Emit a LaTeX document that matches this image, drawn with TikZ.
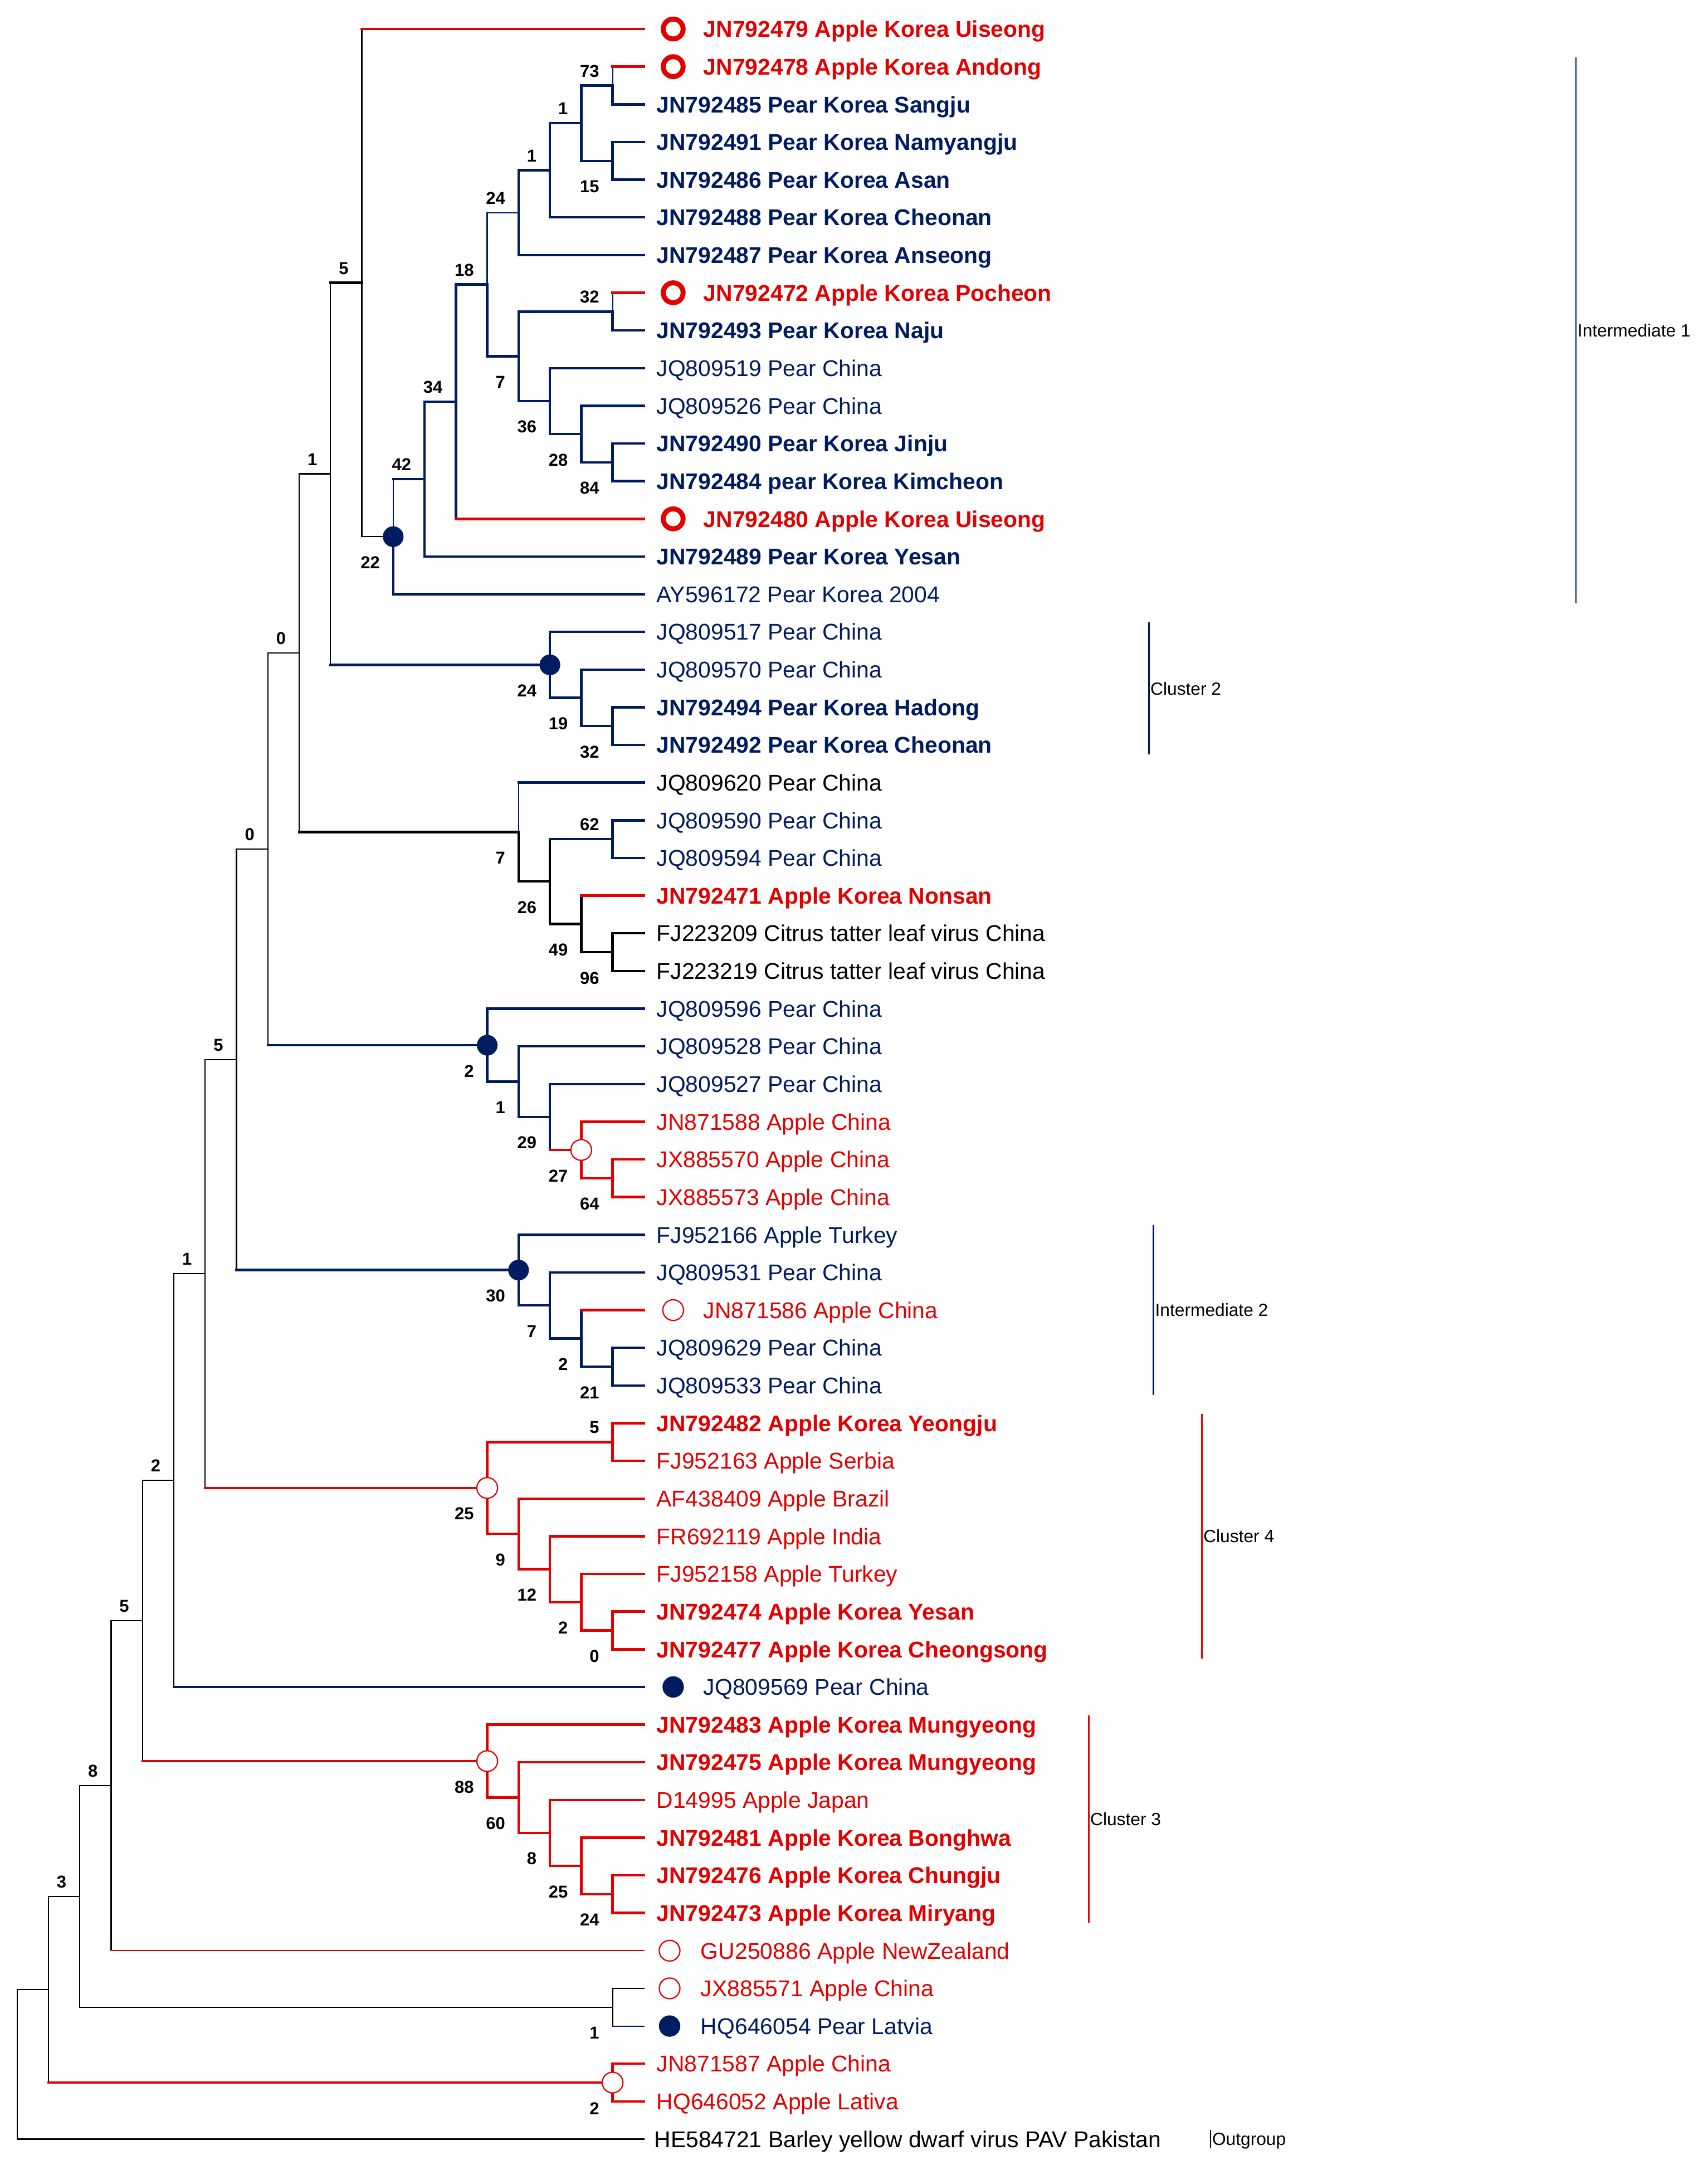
\documentclass[tikz,border=0pt]{standalone}
\usepackage{fontspec}
\setmainfont{Liberation Sans}
\usetikzlibrary{positioning}
\definecolor{navy}{RGB}{0,28,96}
\definecolor{applered}{RGB}{226,0,0}
\tikzset{
  kthin/.style={draw=black, line width=0.9pt, line cap=rect},
  kthick/.style={draw=black, line width=1.8pt, line cap=rect},
  bthin/.style={draw=navy, line width=0.9pt, line cap=rect},
  bthick/.style={draw=navy, line width=1.8pt, line cap=rect},
  rthin/.style={draw=applered, line width=0.9pt, line cap=rect},
  rthick/.style={draw=applered, line width=1.8pt, line cap=rect},
  leaf/.style={inner sep=0pt, text height=11.9pt, text depth=0pt, font=\fontsize{16.5}{18}\selectfont},
  leafB/.style={leaf, text=navy, font=\fontsize{16.5}{18}\selectfont\bfseries},
  leafb/.style={leaf, text=navy},
  leafR/.style={leaf, text=applered, font=\fontsize{16.5}{18}\selectfont\bfseries},
  leafr/.style={leaf, text=applered},
  leafk/.style={leaf, text=black},
  boot/.style={inner sep=0pt, text height=9pt, text depth=0pt, font=\fontsize{12.5}{14}\selectfont\bfseries},
  bootup/.style={boot, anchor=south east, xshift=-9.5pt, yshift=6pt},
  bootdn/.style={boot, anchor=north east, xshift=-9.5pt, yshift=-13.8pt},
  ringR/.style={circle, draw=applered, line width=3.6pt, fill=white, minimum size=14.4pt, inner sep=0pt},
  ringr/.style={circle, draw=applered, line width=0.9pt, fill=white, minimum size=15pt, inner sep=0pt},
  dotB/.style={circle, fill=navy, minimum size=15.5pt, inner sep=0pt},
  hnode/.style={circle, draw=applered, line width=0.9pt, fill=white, minimum size=15pt, inner sep=0pt},
  fnode/.style={circle, fill=navy, minimum size=15pt, inner sep=0pt},
  bar/.style={line width=1.1pt},
  clus/.style={inner sep=0pt, anchor=west, xshift=1pt, text height=9.2pt, text depth=0pt, font=\fontsize{12.8}{14}\selectfont}
}

\begin{document}
\begin{tikzpicture}[x=22.7pt, y=-27.29pt]
\useasboundingbox (-0.5463,0.2305) rectangle (53.947,57.688);

\coordinate (l1) at (20,1);
\coordinate (l2) at (20,2);
\coordinate (l3) at (20,3);
\coordinate (l4) at (20,4);
\coordinate (l5) at (20,5);
\coordinate (l6) at (20,6);
\coordinate (l7) at (20,7);
\coordinate (l8) at (20,8);
\coordinate (l9) at (20,9);
\coordinate (l10) at (20,10);
\coordinate (l11) at (20,11);
\coordinate (l12) at (20,12);
\coordinate (l13) at (20,13);
\coordinate (l14) at (20,14);
\coordinate (l15) at (20,15);
\coordinate (l16) at (20,16);
\coordinate (l17) at (20,17);
\coordinate (l18) at (20,18);
\coordinate (l19) at (20,19);
\coordinate (l20) at (20,20);
\coordinate (l21) at (20,21);
\coordinate (l22) at (20,22);
\coordinate (l23) at (20,23);
\coordinate (l24) at (20,24);
\coordinate (l25) at (20,25);
\coordinate (l26) at (20,26);
\coordinate (l27) at (20,27);
\coordinate (l28) at (20,28);
\coordinate (l29) at (20,29);
\coordinate (l30) at (20,30);
\coordinate (l31) at (20,31);
\coordinate (l32) at (20,32);
\coordinate (l33) at (20,33);
\coordinate (l34) at (20,34);
\coordinate (l35) at (20,35);
\coordinate (l36) at (20,36);
\coordinate (l37) at (20,37);
\coordinate (l38) at (20,38);
\coordinate (l39) at (20,39);
\coordinate (l40) at (20,40);
\coordinate (l41) at (20,41);
\coordinate (l42) at (20,42);
\coordinate (l43) at (20,43);
\coordinate (l44) at (20,44);
\coordinate (l45) at (20,45);
\coordinate (l46) at (20,46);
\coordinate (l47) at (20,47);
\coordinate (l48) at (20,48);
\coordinate (l49) at (20,49);
\coordinate (l50) at (20,50);
\coordinate (l51) at (20,51);
\coordinate (l52) at (20,52);
\coordinate (l53) at (20,53);
\coordinate (l54) at (20,54);
\coordinate (l55) at (20,55);
\coordinate (l56) at (20,56);
\coordinate (l57) at (20,57);

\coordinate (s0) at (0,55.0152);
\coordinate (s1) at (1,53.0304);
\coordinate (s2) at (2,50.5608);
\coordinate (s3) at (3,47.6215);
\coordinate (s4) at (4,43.2431);
\coordinate (s5) at (5,39.5174);
\coordinate (s6) at (6,34.0347);
\coordinate (s7) at (7,28.3507);
\coordinate (s8) at (8,22.7639);
\coordinate (s9) at (9,17.5591);
\coordinate (s10) at (10,12.8057);
\coordinate (s11) at (11,7.7363);
\coordinate (a22) at (12,14.4727);
\coordinate (a42) at (13,12.9453);
\coordinate (a34) at (14,10.8906);
\coordinate (a18) at (15,7.7813);
\coordinate (a24) at (16,5.875);
\coordinate (a1p) at (17,4.75);
\coordinate (a1q) at (18,3.5);
\coordinate (a73) at (19,2.5);
\coordinate (a15) at (19,4.5);
\coordinate (a7) at (16,9.6875);
\coordinate (a32) at (19,8.5);
\coordinate (a36) at (17,10.875);
\coordinate (a28) at (18,11.75);
\coordinate (a84) at (19,12.5);
\coordinate (b24) at (17,17.875);
\coordinate (b19) at (18,18.75);
\coordinate (b32) at (19,19.5);
\coordinate (c7) at (16,22.3125);
\coordinate (c26) at (17,23.625);
\coordinate (c62) at (19,22.5);
\coordinate (c49) at (18,24.75);
\coordinate (c96) at (19,25.5);
\coordinate (d2) at (15,27.9688);
\coordinate (d1) at (16,28.9375);
\coordinate (d29) at (17,29.875);
\coordinate (d27) at (18,30.75);
\coordinate (d64) at (19,31.5);
\coordinate (e30) at (16,33.9375);
\coordinate (e7) at (17,34.875);
\coordinate (e2) at (18,35.75);
\coordinate (e21) at (19,36.5);
\coordinate (f25) at (15,39.7188);
\coordinate (f5) at (19,38.5);
\coordinate (f9) at (16,40.9375);
\coordinate (f12) at (17,41.875);
\coordinate (f2) at (18,42.75);
\coordinate (f0) at (19,43.5);
\coordinate (g88) at (15,46.9688);
\coordinate (g60) at (16,47.9375);
\coordinate (g8) at (17,48.875);
\coordinate (g25) at (18,49.75);
\coordinate (g24) at (19,50.5);
\coordinate (h1) at (19,53.5);
\coordinate (h2) at (19,55.5);

\draw[kthin] (s0) |- (s1);
\draw[kthin] (s0) |- (l57);
\draw[kthin] (s1) |- (s2);
\draw[kthin] (s1) -- (s1 |- h2);
\draw[rthick] (s1 |- h2) -- (h2);
\draw[rthick] (h2) |- (l55);
\draw[rthick] (h2) |- (l56);
\draw[kthin] (s2) |- (s3);
\draw[kthin] (s2) |- (h1);
\draw[kthin] (h1) |- (l53);
\draw[kthin] (h1) -- (h1 |- l54);
\draw[bthin] (h1 |- l54) -- (l54);
\draw[kthin] (s3) |- (s4);
\draw[kthin] (s3) -- (s3 |- l52);
\draw[rthin] (s3 |- l52) -- (l52);
\draw[kthin] (s4) |- (s5);
\draw[kthin] (s4) -- (s4 |- g88);
\draw[rthick] (s4 |- g88) -- (g88);
\draw[rthick] (g88) |- (l46);
\draw[rthick] (g88) |- (g60);
\draw[rthick] (g60) |- (l47);
\draw[rthick] (g60) |- (g8);
\draw[rthick] (g8) |- (l48);
\draw[rthick] (g8) |- (g25);
\draw[rthick] (g25) |- (l49);
\draw[rthick] (g25) |- (g24);
\draw[rthick] (g24) |- (l50);
\draw[rthick] (g24) |- (l51);
\draw[kthin] (s5) |- (s6);
\draw[kthin] (s5) -- (s5 |- l45);
\draw[bthick] (s5 |- l45) -- (l45);
\draw[kthin] (s6) |- (s7);
\draw[kthin] (s6) -- (s6 |- f25);
\draw[rthick] (s6 |- f25) -- (f25);
\draw[rthick] (f25) |- (f5);
\draw[rthick] (f25) |- (f9);
\draw[rthick] (f5) |- (l38);
\draw[rthick] (f5) |- (l39);
\draw[rthick] (f9) |- (l40);
\draw[rthick] (f9) |- (f12);
\draw[rthick] (f12) |- (l41);
\draw[rthick] (f12) |- (f2);
\draw[rthick] (f2) |- (l42);
\draw[rthick] (f2) |- (f0);
\draw[rthick] (f0) |- (l43);
\draw[rthick] (f0) |- (l44);
\draw[kthin] (s7) |- (s8);
\draw[kthin] (s7) -- (s7 |- e30);
\draw[bthick] (s7 |- e30) -- (e30);
\draw[bthick] (e30) |- (l33);
\draw[bthick] (e30) |- (e7);
\draw[bthick] (e7) |- (l34);
\draw[bthick] (e7) |- (e2);
\draw[bthick] (e2) -- (e2 |- l35);
\draw[rthick] (e2 |- l35) -- (l35);
\draw[bthick] (e2) |- (e21);
\draw[bthick] (e21) |- (l36);
\draw[bthick] (e21) |- (l37);
\draw[kthin] (s8) |- (s9);
\draw[kthin] (s8) -- (s8 |- d2);
\draw[bthick] (s8 |- d2) -- (d2);
\draw[bthick] (d2) |- (l27);
\draw[bthick] (d2) |- (d1);
\draw[bthick] (d1) |- (l28);
\draw[bthick] (d1) |- (d29);
\draw[bthick] (d29) |- (l29);
\draw[bthick] (d29) -- (d29 |- d27);
\draw[rthick] (d29 |- d27) -- (d27);
\draw[rthick] (d27) |- (l30);
\draw[rthick] (d27) |- (d64);
\draw[rthick] (d64) |- (l31);
\draw[rthick] (d64) |- (l32);
\draw[kthin] (s9) |- (s10);
\draw[kthin] (s9) -- (s9 |- c7);
\draw[kthick] (s9 |- c7) -- (c7);
\draw[bthin] (c7) -- (c7 |- l21);
\draw[bthick] (c7 |- l21) -- (l21);
\draw[kthick] (c7) |- (c26);
\draw[kthick] (c26) -- (c26 |- c62);
\draw[bthick] (c26 |- c62) -- (c62);
\draw[kthick] (c26) |- (c49);
\draw[bthick] (c62) |- (l22);
\draw[bthick] (c62) |- (l23);
\draw[kthick] (c49) -- (c49 |- l24);
\draw[rthick] (c49 |- l24) -- (l24);
\draw[kthick] (c49) |- (c96);
\draw[kthick] (c96) |- (l25);
\draw[kthick] (c96) |- (l26);
\draw[kthin] (s10) -- (s10 |- s11);
\draw[kthick] (s10 |- s11) -- (s11);
\draw[kthin] (s10) -- (s10 |- b24);
\draw[bthick] (s10 |- b24) -- (b24);
\draw[bthick] (b24) |- (l17);
\draw[bthick] (b24) |- (b19);
\draw[bthick] (b19) |- (l18);
\draw[bthick] (b19) |- (b32);
\draw[bthick] (b32) |- (l19);
\draw[bthick] (b32) |- (l20);
\draw[kthin] (s11) -- (s11 |- l1);
\draw[rthick] (s11 |- l1) -- (l1);
\draw[kthin] (s11) |- (a22);
\draw[bthin] (a22) -- (a22 |- a42);
\draw[bthick] (a22 |- a42) -- (a42);
\draw[bthick] (a22) |- (l16);
\draw[bthick] (a42) |- (a34);
\draw[bthick] (a42) |- (l15);
\draw[bthick] (a34) |- (a18);
\draw[bthick] (a34) -- (a34 |- l14);
\draw[rthick] (a34 |- l14) -- (l14);
\draw[bthin] (a18) |- (a24);
\draw[bthick] (a18) |- (a7);
\draw[bthick] (a24) |- (a1p);
\draw[bthick] (a24) |- (l7);
\draw[bthick] (a1p) |- (a1q);
\draw[bthick] (a1p) |- (l6);
\draw[bthick] (a1q) |- (a73);
\draw[bthick] (a1q) |- (a15);
\draw[bthin] (a73) -- (a73 |- l2);
\draw[rthick] (a73 |- l2) -- (l2);
\draw[bthick] (a73) |- (l3);
\draw[bthick] (a15) |- (l4);
\draw[bthick] (a15) |- (l5);
\draw[bthick] (a7) |- (a32);
\draw[bthick] (a7) |- (a36);
\draw[bthin] (a32) -- (a32 |- l8);
\draw[rthick] (a32 |- l8) -- (l8);
\draw[bthick] (a32) |- (l9);
\draw[bthick] (a36) |- (l10);
\draw[bthick] (a36) |- (a28);
\draw[bthick] (a28) |- (l11);
\draw[bthick] (a28) |- (a84);
\draw[bthick] (a84) |- (l12);
\draw[bthick] (a84) |- (l13);

\node[fnode] (ma22) at (a22) {};
\node[fnode] (mb24) at (b24) {};
\node[fnode] (md2) at (d2) {};
\node[fnode] (me30) at (e30) {};
\node[hnode] (md27) at (d27) {};
\node[hnode] (mf25) at (f25) {};
\node[hnode] (mg88) at (g88) {};
\node[hnode] (mh2) at (h2) {};

\node[bootup] (bs2) at (s2) {3};
\node[bootup] (bs3) at (s3) {8};
\node[bootup] (bs4) at (s4) {5};
\node[bootup] (bs5) at (s5) {2};
\node[bootup] (bs6) at (s6) {1};
\node[bootup] (bs7) at (s7) {5};
\node[bootup] (bs8) at (s8) {0};
\node[bootup] (bs9) at (s9) {0};
\node[bootup] (bs10) at (s10) {1};
\node[bootup] (bs11) at (s11) {5};
\node[bootdn] (ba22) at (a22) {22};
\node[bootup] (ba42) at (a42) {42};
\node[bootup] (ba34) at (a34) {34};
\node[bootup] (ba18) at (a18) {18};
\node[bootup] (ba24) at (a24) {24};
\node[bootup] (ba1p) at (a1p) {1};
\node[bootup] (ba1q) at (a1q) {1};
\node[bootup] (ba73) at (a73) {73};
\node[bootdn] (ba15) at (a15) {15};
\node[bootdn] (ba7) at (a7) {7};
\node[bootup] (ba32) at (a32) {32};
\node[bootdn] (ba36) at (a36) {36};
\node[bootdn] (ba28) at (a28) {28};
\node[bootdn] (ba84) at (a84) {84};
\node[bootdn] (bb24) at (b24) {24};
\node[bootdn] (bb19) at (b19) {19};
\node[bootdn] (bb32) at (b32) {32};
\node[bootdn] (bc7) at (c7) {7};
\node[bootdn] (bc26) at (c26) {26};
\node[bootup] (bc62) at (c62) {62};
\node[bootdn] (bc49) at (c49) {49};
\node[bootdn] (bc96) at (c96) {96};
\node[bootdn] (bd2) at (d2) {2};
\node[bootdn] (bd1) at (d1) {1};
\node[bootdn] (bd29) at (d29) {29};
\node[bootdn] (bd27) at (d27) {27};
\node[bootdn] (bd64) at (d64) {64};
\node[bootdn] (be30) at (e30) {30};
\node[bootdn] (be7) at (e7) {7};
\node[bootdn] (be2) at (e2) {2};
\node[bootdn] (be21) at (e21) {21};
\node[bootdn] (bf25) at (f25) {25};
\node[bootup] (bf5) at (f5) {5};
\node[bootdn] (bf9) at (f9) {9};
\node[bootdn] (bf12) at (f12) {12};
\node[bootdn] (bf2) at (f2) {2};
\node[bootdn] (bf0) at (f0) {0};
\node[bootdn] (bg88) at (g88) {88};
\node[bootdn] (bg60) at (g60) {60};
\node[bootdn] (bg8) at (g8) {8};
\node[bootdn] (bg25) at (g25) {25};
\node[bootdn] (bg24) at (g24) {24};
\node[bootdn] (bh1) at (h1) {1};
\node[bootdn] (bh2) at (h2) {2};

\node[ringR] (m1) at ([xshift=21.2pt]l1) {};
\node[ringR] (m2) at ([xshift=21.2pt]l2) {};
\node[ringR] (m8) at ([xshift=21.2pt]l8) {};
\node[ringR] (m14) at ([xshift=21.2pt]l14) {};
\node[ringr] (m35) at ([xshift=21.2pt]l35) {};
\node[dotB] (m45) at ([xshift=21.2pt]l45) {};
\node[ringr] (m52) at ([xshift=18.6pt]l52) {};
\node[ringr] (m53) at ([xshift=18.6pt]l53) {};
\node[dotB] (m54) at ([xshift=18.6pt]l54) {};

\node[leafR, right=43pt of l1] (t1) {JN792479 Apple Korea Uiseong};
\node[leafR, right=43pt of l2] (t2) {JN792478 Apple Korea Andong};
\node[leafB, right=9pt of l3] (t3) {JN792485 Pear Korea Sangju};
\node[leafB, right=9pt of l4] (t4) {JN792491 Pear Korea Namyangju};
\node[leafB, right=9pt of l5] (t5) {JN792486 Pear Korea Asan};
\node[leafB, right=9pt of l6] (t6) {JN792488 Pear Korea Cheonan};
\node[leafB, right=9pt of l7] (t7) {JN792487 Pear Korea Anseong};
\node[leafR, right=43pt of l8] (t8) {JN792472 Apple Korea Pocheon};
\node[leafB, right=9pt of l9] (t9) {JN792493 Pear Korea Naju};
\node[leafb, right=9pt of l10] (t10) {JQ809519 Pear China};
\node[leafb, right=9pt of l11] (t11) {JQ809526 Pear China};
\node[leafB, right=9pt of l12] (t12) {JN792490 Pear Korea Jinju};
\node[leafB, right=9pt of l13] (t13) {JN792484 pear Korea Kimcheon};
\node[leafR, right=43pt of l14] (t14) {JN792480 Apple Korea Uiseong};
\node[leafB, right=9pt of l15] (t15) {JN792489 Pear Korea Yesan};
\node[leafb, right=9pt of l16] (t16) {AY596172 Pear Korea 2004};
\node[leafb, right=9pt of l17] (t17) {JQ809517 Pear China};
\node[leafb, right=9pt of l18] (t18) {JQ809570 Pear China};
\node[leafB, right=9pt of l19] (t19) {JN792494 Pear Korea Hadong};
\node[leafB, right=9pt of l20] (t20) {JN792492 Pear Korea Cheonan};
\node[leafk, right=9pt of l21] (t21) {JQ809620 Pear China};
\node[leafb, right=9pt of l22] (t22) {JQ809590 Pear China};
\node[leafb, right=9pt of l23] (t23) {JQ809594 Pear China};
\node[leafR, right=9pt of l24] (t24) {JN792471 Apple Korea Nonsan};
\node[leafk, right=9pt of l25] (t25) {FJ223209 Citrus tatter leaf virus China};
\node[leafk, right=9pt of l26] (t26) {FJ223219 Citrus tatter leaf virus China};
\node[leafb, right=9pt of l27] (t27) {JQ809596 Pear China};
\node[leafb, right=9pt of l28] (t28) {JQ809528 Pear China};
\node[leafb, right=9pt of l29] (t29) {JQ809527 Pear China};
\node[leafr, right=9pt of l30] (t30) {JN871588 Apple China};
\node[leafr, right=9pt of l31] (t31) {JX885570 Apple China};
\node[leafr, right=9pt of l32] (t32) {JX885573 Apple China};
\node[leafb, right=9pt of l33] (t33) {FJ952166 Apple Turkey};
\node[leafb, right=9pt of l34] (t34) {JQ809531 Pear China};
\node[leafr, right=43pt of l35] (t35) {JN871586 Apple China};
\node[leafb, right=9pt of l36] (t36) {JQ809629 Pear China};
\node[leafb, right=9pt of l37] (t37) {JQ809533 Pear China};
\node[leafR, right=9pt of l38] (t38) {JN792482 Apple Korea Yeongju};
\node[leafr, right=9pt of l39] (t39) {FJ952163 Apple Serbia};
\node[leafr, right=9pt of l40] (t40) {AF438409 Apple Brazil};
\node[leafr, right=9pt of l41] (t41) {FR692119 Apple India};
\node[leafr, right=9pt of l42] (t42) {FJ952158 Apple Turkey};
\node[leafR, right=9pt of l43] (t43) {JN792474 Apple Korea Yesan};
\node[leafR, right=9pt of l44] (t44) {JN792477 Apple Korea Cheongsong};
\node[leafb, right=43pt of l45] (t45) {JQ809569 Pear China};
\node[leafR, right=9pt of l46] (t46) {JN792483 Apple Korea Mungyeong};
\node[leafR, right=9pt of l47] (t47) {JN792475 Apple Korea Mungyeong};
\node[leafr, right=9pt of l48] (t48) {D14995 Apple Japan};
\node[leafR, right=9pt of l49] (t49) {JN792481 Apple Korea Bonghwa};
\node[leafR, right=9pt of l50] (t50) {JN792476 Apple Korea Chungju};
\node[leafR, right=9pt of l51] (t51) {JN792473 Apple Korea Miryang};
\node[leafr, right=41pt of l52] (t52) {GU250886 Apple NewZealand};
\node[leafr, right=41pt of l53] (t53) {JX885571 Apple China};
\node[leafb, right=41pt of l54] (t54) {HQ646054 Pear Latvia};
\node[leafr, right=9pt of l55] (t55) {JN871587 Apple China};
\node[leafr, right=9pt of l56] (t56) {HQ646052 Apple Lativa};
\node[leafk, right=7.3pt of l57] (t57) {HE584721 Barley yellow dwarf virus PAV Pakistan};

\coordinate (i1a) at (49.74,1.75);
\coordinate (i1b) at (49.74,16.25);
\draw[bar, navy] (i1a) -- (i1b);
\node[clus] (k1) at (49.74,9) {Intermediate 1};
\coordinate (c2a) at (36.11,16.75);
\coordinate (c2b) at (36.11,20.25);
\draw[bar, navy] (c2a) -- (c2b);
\node[clus] (k2) at (36.11,18.5) {Cluster 2};
\coordinate (i2a) at (36.26,32.75);
\coordinate (i2b) at (36.26,37.25);
\draw[bar, navy] (i2a) -- (i2b);
\node[clus] (k3) at (36.26,35) {Intermediate 2};
\coordinate (c4a) at (37.80,37.75);
\coordinate (c4b) at (37.80,44.25);
\draw[bar, applered] (c4a) -- (c4b);
\node[clus] (k4) at (37.80,41) {Cluster 4};
\coordinate (c3a) at (34.19,45.75);
\coordinate (c3b) at (34.19,51.25);
\draw[bar, applered] (c3a) -- (c3b);
\node[clus] (k5) at (34.19,48.5) {Cluster 3};
\coordinate (oga) at (38.08,56.75);
\coordinate (ogb) at (38.08,57.25);
\draw[bar, black] (oga) -- (ogb);
\node[clus] (k6) at (38.08,57) {Outgroup};
\end{tikzpicture}
\end{document}
